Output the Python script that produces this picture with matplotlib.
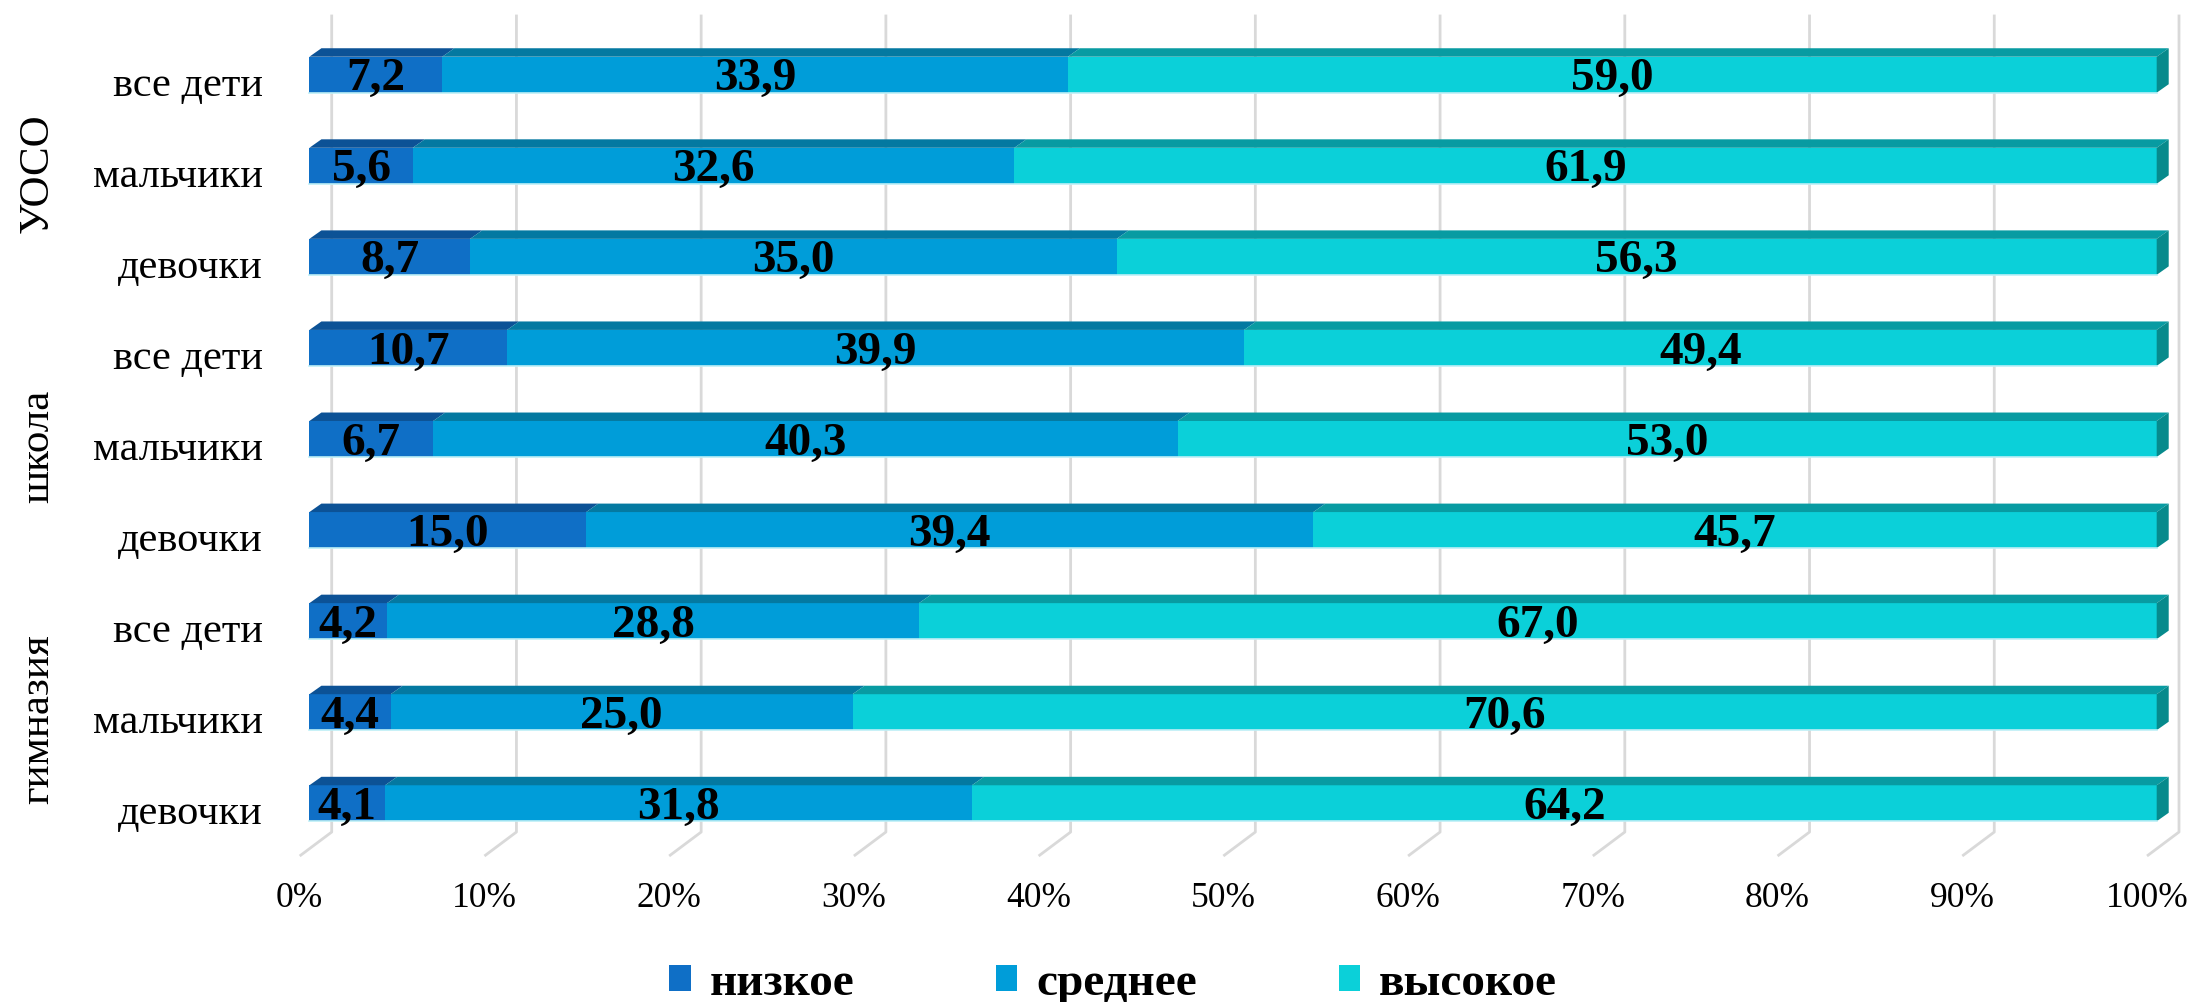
import matplotlib
matplotlib.use('Agg')
import matplotlib.pyplot as plt
from matplotlib.patches import Polygon
import numpy as np

# ---------------- data ----------------
categories = ['все дети', 'мальчики', 'девочки',
              'все дети', 'мальчики', 'девочки',
              'все дети', 'мальчики', 'девочки']
groups = ['УОСО', 'школа', 'гимназия']
low = [7.2, 5.6, 8.7, 10.7, 6.7, 15.0, 4.2, 4.4, 4.1]
mid = [33.9, 32.6, 35.0, 39.9, 40.3, 39.4, 28.8, 25.0, 31.8]
high = [59.0, 61.9, 56.3, 49.4, 53.0, 45.7, 67.0, 70.6, 64.2]
series_names = ['низкое', 'среднее', 'высокое']
xticks = [0, 10, 20, 30, 40, 50, 60, 70, 80, 90, 100]
xticklabels = [f'{t}%' for t in xticks]

# ---------------- style ----------------
FONT = 'Liberation Serif'
front_colors = ['#0F6FC6', '#009DD9', '#0BD0D9']
top_colors = ['#0C5296', '#0479A1', '#089BA2']
side_color = '#078A8C'
grid_color = '#D9D9D9'

W, H, DPI = 2191, 1002, 100
fig = plt.figure(figsize=(W / DPI, H / DPI), dpi=DPI)
ax = fig.add_axes([0, 0, 1, 1])
ax.axis('off')

# pixel layout -> data limits
X0PX, PXPER = 309.4, 18.473          # px of 0%, px per 1%
ROW0PX, ROWPX = 74.7, 91.07          # px of first row centre, px per row
ax.set_xlim(-X0PX / PXPER, (W - X0PX) / PXPER)
ax.set_ylim((H - ROW0PX) / ROWPX, -ROW0PX / ROWPX)

n = len(categories)
rows = np.arange(n)
vals = np.array([low, mid, high], dtype=float)
vals = vals / vals.sum(axis=0) * 100.0   # 100% stacked

BH = 0.395          # front face height (rows)
DX, DY = 0.65, -0.093   # 3-D depth offset
GX = 1.207          # gridline back-plane offset (%)
FX, FY = -0.525, 8.579  # floor front point

# gridlines (back wall + floor)
for p, tl in zip(xticks, xticklabels):
    ax.plot([p + GX, p + GX, p + FX], [-0.66, 8.316, FY],
            color=grid_color, lw=2.0, zorder=1, solid_capstyle='butt')
    ax.text(p + FX, 9.05, tl, ha='center', va='center',
            fontsize=25.5, family=FONT)

# bars
left = np.zeros(n)
handles = []
for k in range(3):
    bc = ax.barh(rows, vals[k], left=left, height=BH,
                 color=front_colors[k], zorder=3, label=series_names[k])
    handles.append(bc)
    for i in range(n):
        a, b = left[i], left[i] + vals[k][i]
        yt = rows[i] - BH / 2
        ax.add_patch(Polygon([(a, yt), (b, yt), (b + DX, yt + DY), (a + DX, yt + DY)],
                             closed=True, facecolor=top_colors[k], edgecolor='none', zorder=3))
        lab = f'{[low, mid, high][k][i]:.1f}'.replace('.', ',')
        ax.text((a + b) / 2, rows[i] + 0.05, lab, ha='center', va='center',
                fontsize=34, fontweight='bold', family=FONT, zorder=5)
    left = left + vals[k]

# right side faces and bottom highlight
for i in range(n):
    yt, yb = rows[i] - BH / 2, rows[i] + BH / 2
    e = left[i]
    ax.add_patch(Polygon([(e, yt), (e, yb), (e + DX, yb + DY), (e + DX, yt + DY)],
                         closed=True, facecolor=side_color, edgecolor='none', zorder=3))
    ax.plot([0, e], [yb, yb], color='#BDEFF6', lw=1.2, zorder=4)

# category labels
for i, c in enumerate(categories):
    ax.text(-2.51, rows[i] + 0.12, c, ha='right', va='center',
            fontsize=30.5, family=FONT)

# group labels
for g_i, g in enumerate(groups):
    ax.text(-14.7, 3 * g_i + 1.08, g, ha='center', va='center', rotation=90,
            fontsize=31, family=FONT)

fig.legend(handles=handles, labels=series_names, loc='center',
           bbox_to_anchor=(0.508, 0.018), ncol=3, frameon=False,
           prop={'family': FONT, 'weight': 'bold', 'size': 34},
           handlelength=0.45, handleheight=0.45, handletextpad=0.4,
           columnspacing=3.0, borderpad=0.1)

fig.savefig('out.png', dpi=DPI)
